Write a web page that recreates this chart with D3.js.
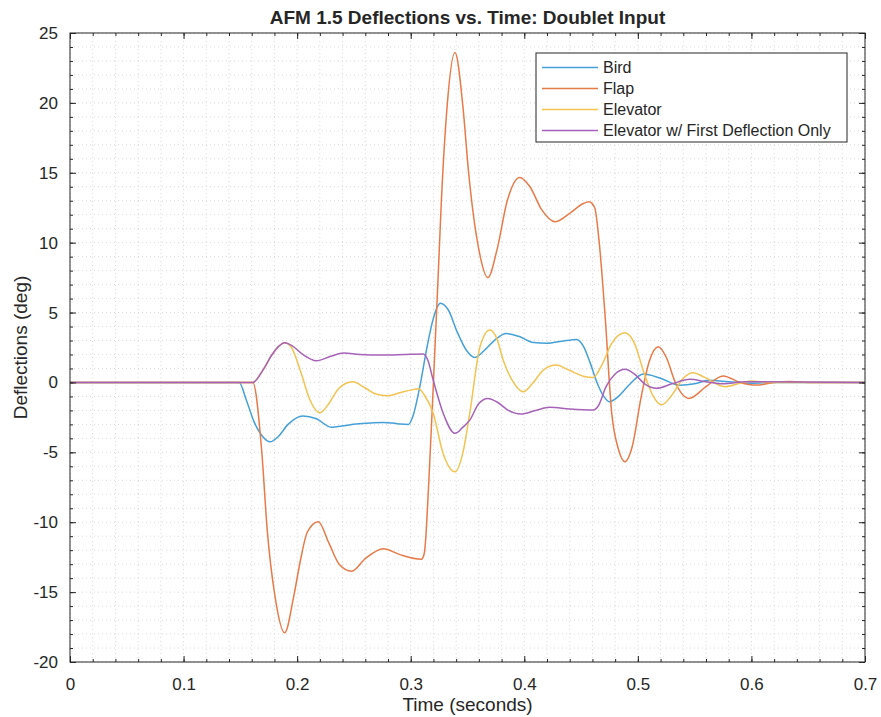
<!DOCTYPE html>
<html>
<head>
<meta charset="utf-8">
<script src="https://cdn.jsdelivr.net/npm/d3@7"></script>
<style>
  body { margin: 0; background: #fff; }
  text { font-family: "Liberation Sans", Arial, Helvetica, sans-serif; fill: #262626; }
</style>
</head>
<body>
<svg id="chart" width="881" height="717"></svg>
<script>
// [time (s), deflection (deg)]
const birdData = [[0,0],[0.149,0],[0.155,-1.2],[0.162,-2.8],[0.170,-3.9],[0.176,-4.25],[0.183,-3.9],[0.192,-3.0],[0.205,-2.4],[0.217,-2.6],
  [0.230,-3.2],[0.241,-3.1],[0.252,-2.98],[0.265,-2.9],[0.276,-2.86],[0.288,-2.95],[0.298,-3.0],[0.302,-2.4],[0.308,-0.3],[0.315,2.8],
  [0.320,4.6],[0.326,5.66],[0.333,5.2],[0.341,3.6],[0.349,2.3],[0.3565,1.79],[0.365,2.3],[0.375,3.1],[0.384,3.5],[0.395,3.3],
  [0.408,2.85],[0.420,2.8],[0.433,2.95],[0.446,3.08],[0.452,2.6],[0.458,1.4],[0.464,0.0],[0.470,-1.0],[0.475,-1.38],[0.483,-1.0],
  [0.492,-0.2],[0.505,0.6],[0.520,0.3],[0.537,-0.2],[0.550,-0.1],[0.562,0.15],[0.580,0.05],[0.600,-0.05],[0.620,0],[0.700,0]];

const flapData = [[0,0],[0.161,0],[0.1687,-4.8],[0.1737,-10.6],[0.1805,-15.3],[0.189,-17.9],[0.197,-15.3],[0.2025,-12.9],[0.209,-10.7],[0.2186,-9.96],
  [0.228,-11.5],[0.237,-13.0],[0.248,-13.5],[0.260,-12.6],[0.276,-11.9],[0.290,-12.3],[0.3095,-12.65],[0.312,-12.2],[0.316,-7],[0.320,0],
  [0.324,7.3],[0.327,13],[0.332,19.7],[0.339,23.6],[0.346,19.7],[0.351,15],[0.360,9.5],[0.368,7.5],[0.376,9.5],[0.385,13],
  [0.396,14.67],[0.405,14],[0.415,12.4],[0.427,11.5],[0.440,12.1],[0.452,12.8],[0.457,12.93],[0.462,12.5],[0.466,10],[0.471,4.94],
  [0.477,-2.2],[0.483,-4.8],[0.4886,-5.67],[0.495,-4.6],[0.503,-1],[0.510,1.5],[0.518,2.55],[0.525,1.8],[0.533,0],[0.545,-1.14],
  [0.560,-0.3],[0.575,0.46],[0.590,0],[0.604,-0.19],[0.620,0],[0.634,0.06],[0.650,0],[0.700,0]];

const elevatorData = [[0,0],[0.161,0],[0.170,0.9],[0.178,2.0],[0.184,2.6],[0.189,2.84],[0.195,2.5],[0.203,0.8],[0.211,-1.2],[0.220,-2.17],
  [0.228,-1.5],[0.237,-0.4],[0.249,0.05],[0.260,-0.4],[0.270,-0.85],[0.279,-0.95],[0.292,-0.7],[0.300,-0.55],[0.307,-0.45],[0.312,-0.9],
  [0.3198,-2.2],[0.3286,-5.1],[0.339,-6.39],[0.346,-5.0],[0.352,-2.2],[0.361,2.55],[0.3697,3.75],[0.376,3.1],[0.3814,1.6],[0.389,0.2],
  [0.399,-0.66],[0.407,-0.1],[0.417,0.9],[0.428,1.24],[0.440,0.85],[0.452,0.45],[0.4607,0.36],[0.468,1.2],[0.477,2.8],[0.4886,3.56],
  [0.497,2.8],[0.505,0.8],[0.513,-0.9],[0.521,-1.6],[0.530,-0.9],[0.540,0.3],[0.5487,0.7],[0.558,0.4],[0.5766,-0.3],[0.590,-0.05],
  [0.600,0.1],[0.615,0],[0.700,0]];

const elevatorFirstData = [[0,0],[0.161,0],[0.170,0.9],[0.178,2.0],[0.184,2.6],[0.189,2.84],[0.196,2.6],[0.205,2.0],[0.217,1.55],[0.229,1.85],
  [0.241,2.1],[0.255,2.0],[0.276,1.96],[0.295,2.0],[0.311,2.03],[0.315,1.6],[0.3198,0.17],[0.3286,-2.2],[0.339,-3.64],[0.346,-3.2],
  [0.352,-2.7],[0.360,-1.5],[0.368,-1.14],[0.376,-1.4],[0.386,-2.0],[0.397,-2.26],[0.410,-2.0],[0.4225,-1.78],[0.440,-1.9],[0.4607,-1.97],
  [0.465,-1.7],[0.472,-0.3],[0.480,0.6],[0.4886,0.94],[0.497,0.6],[0.506,-0.1],[0.5164,-0.42],[0.530,-0.1],[0.5458,0.22],[0.560,0.05],
  [0.575,-0.1],[0.595,0.05],[0.700,0]];

const seriesNames = ["Bird", "Flap", "Elevator", "Elevator w/ First Deflection Only"];
const seriesColors = ["#45a0d8", "#e77a49", "#f3c352", "#a662b8"];
const xTicks = [0, 0.1, 0.2, 0.3, 0.4, 0.5, 0.6, 0.7];
const yTicks = [-20, -15, -10, -5, 0, 5, 10, 15, 20, 25];

const allSeries = [birdData, flapData, elevatorData, elevatorFirstData];

const svg = d3.select("#chart");
const margin = {top: 33, right: 16, bottom: 55, left: 70};
const width = 881 - margin.left - margin.right;
const height = 717 - margin.top - margin.bottom;

svg.append("rect").attr("width", 881).attr("height", 717).attr("fill", "#fff");

const g = svg.append("g").attr("transform", "translate(" + margin.left + "," + margin.top + ")");

const x = d3.scaleLinear().domain([0, 0.7]).range([0, width]);
const y = d3.scaleLinear().domain([-20, 25]).range([height, 0]);

const xMinor = d3.range(0, 0.7001, 0.02).map(d => +d.toFixed(2));
const yMinor = d3.range(-20, 25.001, 1);

// dotted grid (minor and major)
const grid = g.append("g").attr("stroke", "#dadada").attr("stroke-dasharray", "1,3").attr("stroke-width", 1);
grid.selectAll(".vx").data(xMinor).join("line")
  .attr("x1", d => x(d)).attr("x2", d => x(d)).attr("y1", 0).attr("y2", height);
grid.selectAll(".hy").data(yMinor).join("line")
  .attr("x1", 0).attr("x2", width).attr("y1", d => y(d)).attr("y2", d => y(d));

// lines
const line = d3.line().x(d => x(d[0])).y(d => y(d[1])).curve(d3.curveMonotoneX);
g.selectAll(".series").data(allSeries).join("path")
  .attr("fill", "none")
  .attr("stroke", (d, i) => seriesColors[i])
  .attr("stroke-width", 1.5)
  .attr("d", line);

// axes with inward ticks
const axisStyle = sel => {
  sel.select(".domain").remove();
  sel.selectAll("line").attr("stroke", "#262626");
  sel.selectAll("text").attr("font-size", 17).attr("fill", "#262626")
    .attr("font-family", "'Liberation Sans', Arial, sans-serif");
};
const plain = d => String(d);

g.append("g").attr("transform", "translate(0," + height + ")")
  .call(d3.axisBottom(x).tickValues(xTicks).tickSize(-6).tickPadding(16).tickFormat(plain))
  .call(axisStyle);
g.append("g")
  .call(d3.axisLeft(y).tickValues(yTicks).tickSize(-6).tickPadding(12).tickFormat(plain))
  .call(axisStyle);
g.append("g")
  .call(d3.axisTop(x).tickValues(xTicks).tickSize(-6).tickFormat(""))
  .call(axisStyle);
g.append("g").attr("transform", "translate(" + width + ",0)")
  .call(d3.axisRight(y).tickValues(yTicks).tickSize(-6).tickFormat(""))
  .call(axisStyle);

// minor ticks
g.append("g").attr("transform", "translate(0," + height + ")")
  .call(d3.axisBottom(x).tickValues(xMinor).tickSize(-3).tickFormat("")).call(axisStyle);
g.append("g")
  .call(d3.axisTop(x).tickValues(xMinor).tickSize(-3).tickFormat("")).call(axisStyle);
g.append("g")
  .call(d3.axisLeft(y).tickValues(yMinor).tickSize(-3).tickFormat("")).call(axisStyle);
g.append("g").attr("transform", "translate(" + width + ",0)")
  .call(d3.axisRight(y).tickValues(yMinor).tickSize(-3).tickFormat("")).call(axisStyle);

// box
g.append("rect").attr("width", width).attr("height", height)
  .attr("fill", "none").attr("stroke", "#262626").attr("stroke-width", 1);

// title and labels
svg.append("text").attr("x", margin.left + width / 2).attr("y", 24)
  .attr("text-anchor", "middle").attr("font-weight", "bold").attr("font-size", 19)
  .text("AFM 1.5 Deflections vs. Time: Doublet Input");
svg.append("text").attr("x", margin.left + width / 2).attr("y", 711)
  .attr("text-anchor", "middle").attr("font-size", 19)
  .text("Time (seconds)");
svg.append("text").attr("transform", "translate(27," + (margin.top + height / 2) + ") rotate(-90)")
  .attr("text-anchor", "middle").attr("font-size", 19)
  .text("Deflections (deg)");

// legend
const legend = g.append("g").attr("transform", "translate(" + (536 - margin.left) + "," + (53 - margin.top) + ")");
legend.append("rect").attr("width", 311).attr("height", 89)
  .attr("fill", "#fff").attr("stroke", "#262626").attr("stroke-width", 1);
const items = legend.selectAll(".item").data(seriesNames).join("g")
  .attr("transform", (d, i) => "translate(0," + (14.5 + i * 21) + ")");
items.append("line").attr("x1", 6).attr("x2", 62)
  .attr("stroke", (d, i) => seriesColors[i]).attr("stroke-width", 1.5);
items.append("text").attr("x", 67).attr("dy", "0.35em").attr("font-size", 16)
  .text(d => d);
</script>
</body>
</html>
